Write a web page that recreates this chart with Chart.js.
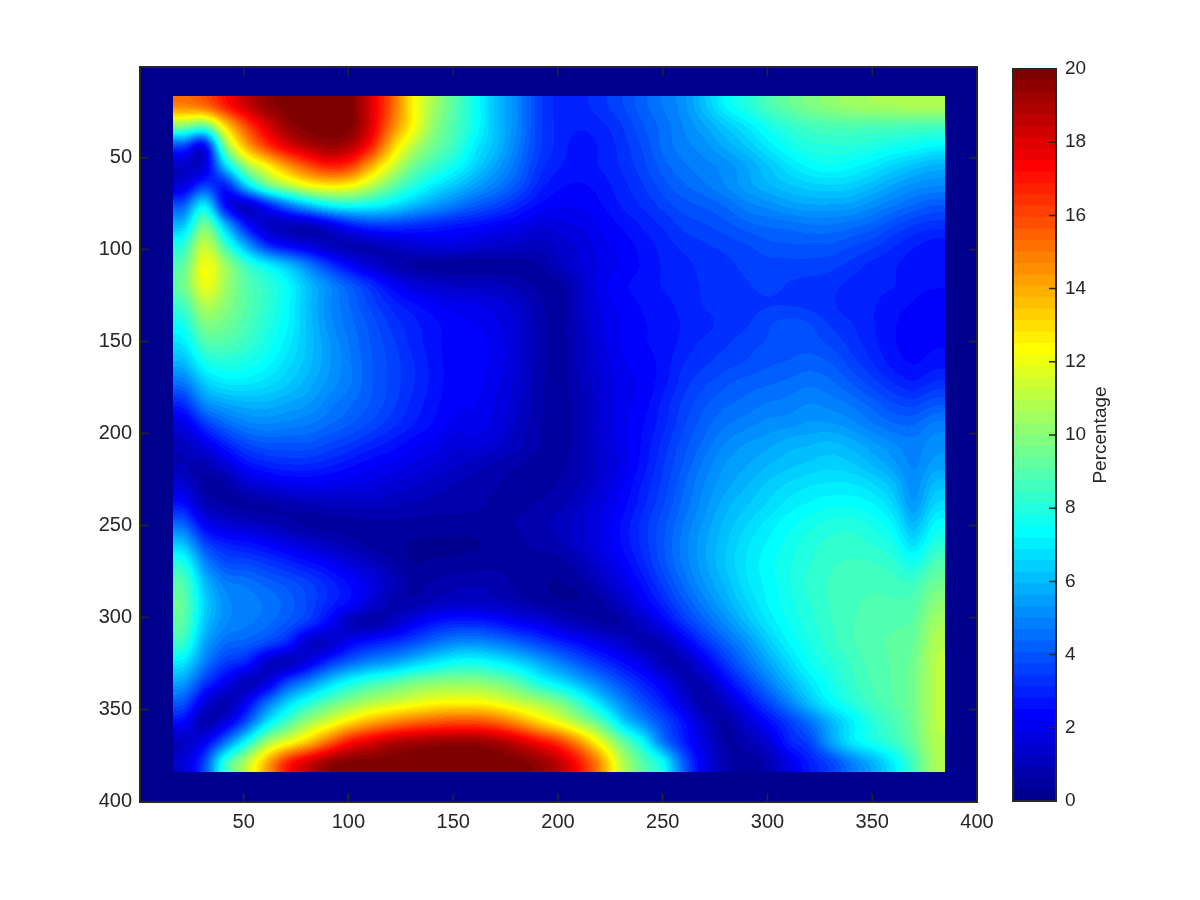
<!DOCTYPE html>
<html lang="en">
<head>
    <meta charset="UTF-8">
    <title>Percentage map</title>
    <script src="https://cdn.jsdelivr.net/npm/chart.js@4"></script>
    <style>
        body { margin: 0; background: #fff; }
        #mapChart { position: absolute; left: 0; top: 0; }
        #barChart { position: absolute; left: 1000px; top: 0; }
    </style>
</head>
<body>
    <canvas id="mapChart" width="1010" height="900"></canvas>
    <canvas id="barChart" width="200" height="900"></canvas>

    <script>
        // tick labels
        const xTicks = [50, 100, 150, 200, 250, 300, 350, 400];
        const yTicks = [50, 100, 150, 200, 250, 300, 350, 400];
        const barTicks = [0, 2, 4, 6, 8, 10, 12, 14, 16, 18, 20];
        const barTitle = 'Percentage';

        // data range covered by the map, everything outside it is 0
        const xExtent = [16.3, 384.8];
        const yExtent = [16.5, 383.8];

        // percentage values, 34 rows of 37 cells, top row first
        const percentRows = [
            [15,15.5,17,18.5,19.5,20,20,20,20,18,15.5,12.5,10.5,9,7.5,6,5,3.5,3,3,3.3,3.7,4.2,4.7,5.2,6.2,7.3,8,8.8,9.3,9.8,10.1,10.4,10.6,10.7,10.8,10.8],
            [10,9,13,16,18,19.5,20,20,20,18,15,12.5,10,8.8,7.5,6,5,3.5,3,2.8,3,3.4,4,4.5,5,5.6,6.3,6.9,7.7,8.2,8.6,8.8,8.9,8.8,8.8,8.7,8.7],
            [3.5,1.5,10,14,16.5,18,19,19.5,19,17,13.5,11,9.5,8.5,7,6,4.8,3.5,3,2.6,2.8,3.2,3.8,4.5,4.9,5.2,5.7,6.3,7,7.6,8,8.1,8.1,7.9,7.7,7.5,7.2],
            [1.2,1.2,6.5,10.5,12.5,14.5,16,17,16.5,14,11.5,9.5,8.5,7.5,6.5,5.5,4.5,3.3,2.8,2.6,2.8,3.1,3.6,4.2,4.6,4.9,5.1,5.6,6.2,6.8,7.3,7.5,7.3,7,6.5,6.1,5.8],
            [1.5,3.5,2.5,6.5,9.5,11,12.3,12.8,12.5,11,9.3,8,7,6.3,5.5,4.8,4,3,2.5,2.4,2.6,3,3.4,3.9,4.3,4.6,5,5.5,5.9,6.2,6.4,6.5,6.4,6,5.6,5.2,5],
            [4,7.5,2,0.8,2.5,4.5,6,7.3,7.6,7.4,6.8,6,5.3,4.7,4.1,3.6,3,2.4,2.2,2.2,2.4,2.8,3.1,3.5,3.9,4.1,4.4,4.9,5.1,5.4,5.6,5.6,5.5,5.1,4.7,4.3,4],
            [6,10,6,2.5,1,0.7,0.6,1.5,2.7,3.3,3.4,3.1,2.9,2.7,2.5,2.2,2,1.6,1.7,1.9,2.2,2.5,2.8,3.1,3.5,3.7,3.9,4.2,4.4,4.5,4.6,4.6,4.5,4.2,3.8,3.4,3.2],
            [8,11.5,8.5,5.5,3,2,1.5,0.9,0.6,0.8,1.1,1.5,1.7,1.7,1.5,1.3,1.2,1,1.3,1.6,2,2.3,2.6,2.9,3.2,3.4,3.5,3.7,3.9,4,4,4,3.8,3.5,3.1,2.8,2.6],
            [9,12.5,10.5,8.5,7.3,6.2,4.8,3.3,2.2,1.3,0.7,0.4,0.3,0.2,0.2,0.3,0.4,0.5,1.1,1.6,1.9,2.2,2.5,2.8,3,3.2,3.3,3.5,3.6,3.6,3.6,3.5,3.3,3,2.8,2.6,2.5],
            [9.5,12.3,10.5,9,8.2,7.4,6,5,4.1,3.2,2.3,1.6,1.3,1.1,1.1,1,0.8,0.5,0.4,1.2,2,2.4,2.6,2.8,3,3.1,3.2,3.4,3.5,3.4,3.3,3.2,3,2.9,2.8,2.6,2.5],
            [8.5,11,10,9,8.2,7.3,6,5,4.3,3.6,3,2.6,2.2,2,1.9,1.7,1.3,0.7,0.4,1.2,1.9,2.3,2.5,2.7,2.9,3.1,3.2,3.3,3.4,3.4,3.3,3.1,2.9,2.8,2.6,2.4,2.3],
            [7.6,9.8,9.5,8.8,8,7.2,6.1,5.1,4.5,3.9,3.3,2.9,2.6,2.3,2.2,1.9,1.5,0.8,0.4,1.1,1.8,2.2,2.4,2.6,2.8,3,3.2,3.4,3.7,3.9,3.8,3.4,3.1,2.8,2.5,2.3,2.3],
            [6.8,8.8,8.9,8.4,7.7,7,6.1,5.3,4.6,4,3.5,3,2.6,2.3,2.3,2,1.5,0.8,0.4,1,1.7,2.2,2.4,2.6,2.9,3.2,3.4,3.6,3.8,3.9,3.9,3.7,3.3,2.9,2.5,2.3,2.4],
            [5.8,7.5,7.9,7.7,7.3,6.7,6,5.3,4.7,4.1,3.6,3.1,2.7,2.3,2.3,2,1.5,0.8,0.4,1,1.6,2.1,2.3,2.6,3.1,3.4,3.6,3.8,4,4.1,4.2,4.1,3.6,3.1,2.7,2.4,2.7],
            [4.5,6.3,6.9,6.9,6.7,6.3,5.7,5.2,4.7,4.1,3.6,3.1,2.7,2.3,2.3,1.9,1.4,0.7,0.4,0.9,1.5,2,2.2,2.7,3.3,3.7,4,4.2,4.3,4.5,4.6,4.5,4.1,3.6,3.1,2.8,3.2],
            [3,5,5.6,5.8,5.8,5.6,5.3,4.8,4.4,4,3.5,3,2.6,2.2,2.2,1.8,1.3,0.7,0.4,0.8,1.5,2,2.3,2.9,3.5,4,4.3,4.5,4.7,4.8,5,4.9,4.6,4.2,3.8,3.6,4],
            [1.7,3.3,4.3,4.9,5,4.9,4.7,4.4,4.1,3.7,3.2,2.8,2.4,2,2,1.7,1.2,0.6,0.4,0.8,1.5,2,2.4,3,3.7,4.2,4.6,4.9,5.1,5.2,5.3,5.3,5.1,4.7,4.4,4.3,4.8],
            [1,1.8,2.9,3.7,4,4,4,3.7,3.4,3,2.7,2.3,2,1.6,1.7,1.4,1,0.6,0.4,0.8,1.4,2,2.5,3.2,3.9,4.5,5,5.3,5.5,5.8,5.9,6,5.8,5.4,5,4.8,5.2],
            [0.9,0.8,1.6,2.6,3,3.1,3.1,2.9,2.6,2.3,2.1,1.8,1.6,1.3,1,0.8,0.6,0.4,0.5,0.8,1.3,1.9,2.6,3.4,4.1,4.8,5.3,5.6,5.9,6.1,6.3,6.4,6.3,5.9,5.4,4.9,5.4],
            [1.4,0.4,0.5,1.3,1.8,2,2.1,2,1.9,1.8,1.5,1.3,1.1,0.9,0.8,0.6,0.4,0.4,0.6,0.9,1.5,2.1,2.8,3.5,4.3,5,5.5,5.9,6.3,6.6,6.8,6.9,6.9,6.6,6,5,6],
            [2.5,0.9,0.5,0.4,0.5,0.7,0.9,1,1,1.1,1,0.9,0.8,0.8,0.7,0.5,0.5,0.6,0.8,1.2,1.7,2.3,3,3.7,4.5,5.2,5.8,6.2,6.6,7,7.2,7.4,7.4,7.2,6.6,5.2,6.6],
            [4.2,2,1.4,1.2,0.9,0.6,0.4,0.4,0.4,0.5,0.5,0.5,0.4,0.4,0.4,0.5,0.6,0.8,1,1.4,1.9,2.5,3.2,3.9,4.7,5.4,6,6.5,7,7.4,7.7,7.9,8,7.7,7.2,5.8,7.3],
            [6.2,3.6,2.8,2.6,2.3,1.8,1.4,1,0.7,0.4,0.3,0.2,0.2,0.2,0.2,0.3,0.5,0.7,0.9,1.3,1.8,2.5,3.2,4,4.9,5.6,6.2,6.8,7.2,7.6,8,8.2,8.3,8.1,7.8,6.6,8],
            [8,5,3.8,3.7,3.4,3,2.6,2.2,1.6,1.1,0.6,0.2,0.3,0.3,0.4,0.5,0.5,0.4,0.4,0.9,1.5,2.2,3,3.9,4.8,5.6,6.3,6.9,7.4,7.8,8.1,8.4,8.5,8.5,8.2,7.6,8.9],
            [9,6,4.8,4.6,4.2,3.9,3.5,3,2.4,1.8,1,0.5,0.6,0.8,0.9,0.8,0.5,0.3,0.2,0.4,1,1.8,2.6,3.5,4.5,5.3,6,6.8,7.3,7.8,8.2,8.5,8.6,8.7,8.6,8.5,9.5],
            [9.3,6.5,5.1,4.9,4.6,4.2,3.7,3,2.4,1.5,0.7,0.6,1,1.2,1.2,1,0.8,0.5,0.3,0.2,0.5,1.2,2.1,3,4,4.9,5.7,6.5,7.2,7.7,8.1,8.5,8.7,8.8,8.8,8.9,10],
            [9.2,6.2,5,4.8,4.5,4,3.4,2.3,0.8,0.5,1.1,2,2.7,3,3,2.7,2.2,1.9,1.2,0.9,0.5,0.5,1.2,2.2,3.3,4.2,5.1,6,6.9,7.5,8,8.4,8.7,8.9,9,9.1,10.5],
            [8.5,5.6,4.4,4.2,3.8,3,1,1,2.2,2.8,3.2,3.8,4.5,5,5.1,4.8,4.2,3.6,3,2.4,1.9,1.3,0.6,0.8,2,3.2,4.2,5.2,6.3,7.2,7.8,8.3,8.7,9,9.1,9.3,10.8],
            [7,4.8,3.4,3,1,0.6,1.8,3.3,4.3,5,5.5,6.3,7,7.5,7.6,7.2,6.6,5.7,4.9,4,3.2,2.5,1.8,0.8,0.7,2,3.4,4.5,5.6,6.6,7.5,8,8.5,8.9,9.1,9.5,11],
            [5.5,3.4,2,0.7,1.5,3.8,5,6.5,7.7,8.5,9,9.7,10,10.1,10.1,9.7,9,7.7,6.8,5.8,4.8,3.8,2.9,2,0.9,0.9,2.3,3.5,4.7,5.9,6.9,7.7,8.3,8.8,9.1,9.6,11],
            [4,1.6,0.5,2,4.5,6.5,8,9.2,10,10.8,11.3,11.8,12.2,12.4,12.4,12,11.2,10.7,9.8,8.3,6.5,5,3.8,2.8,1.6,0.4,1.2,2.4,3.6,4.9,6.2,7.3,8,8.6,9,9.6,11],
            [2.4,0.5,1.6,3.8,6.8,8.8,10.5,11.7,13,14,14.8,15.4,15.8,16,16,15.5,14.5,13.2,12,10.5,9,6.5,5,3.8,2.6,1.2,0.4,1.4,2.4,3.4,4.5,5.8,7,8,8.7,9.5,11],
            [1,2,4.5,7.5,10.5,12,13.5,15.5,17.3,18.2,19,19.3,19.5,19.6,19.6,19.3,18.5,17.5,16.5,14.5,12,9.5,7.5,4.5,2.8,1.6,0.5,0.8,1.4,3,3.5,5.5,7,7.8,8.4,9.3,10.8],
            [1.5,3.5,8.5,11,14,17,18.5,19.6,20,20,20,20,20,20,20,20,20,19.5,18.7,17,14.5,11,9,7.5,4,1.8,0.7,0.3,0.7,1.8,2.8,3.5,4.7,5.7,7,8.7,10.7]
        ];

        const inkColor = '#262626';
        const labelFont = { family: '"Liberation Sans", Arial, sans-serif', size: 20 };

        // matlab jet colormap, 64 levels
        function jetLevel(i) {
            const x = i + 1;
            const part = v => Math.round(255 * Math.max(0, Math.min(1, v / 16)));
            return [part(Math.min(x - 24, 72 - x)), part(Math.min(x - 8, 56 - x)), part(Math.min(x + 8, 40 - x))];
        }
        const jetColors = [];
        for (let i = 0; i < 64; i++) jetColors.push(jetLevel(i));
        const cssColor = c => `rgb(${c[0]},${c[1]},${c[2]})`;

        // Paints percentRows like shading interp: values go in a tiny grey image that the
        // browser scales up to the scale positions, then every pixel is looked up in jet.
        const mapPlugin = {
            id: 'mapPlugin',
            beforeDatasetsDraw(chart) {
                const { ctx, chartArea, scales } = chart;
                ctx.fillStyle = cssColor(jetColors[0]);
                ctx.fillRect(chartArea.left, chartArea.top, chartArea.width, chartArea.height);

                const rows = percentRows.length, cols = percentRows[0].length;
                const small = document.createElement('canvas');
                small.width = cols;
                small.height = rows;
                const smallCtx = small.getContext('2d');
                const grey = smallCtx.createImageData(cols, rows);
                percentRows.forEach((row, r) => row.forEach((v, c) => {
                    const k = (r * cols + c) * 4;
                    grey.data[k] = grey.data[k + 1] = grey.data[k + 2] = Math.round(v / 20 * 255);
                    grey.data[k + 3] = 255;
                }));
                smallCtx.putImageData(grey, 0, 0);

                const x0 = Math.round(scales.x.getPixelForValue(xExtent[0]));
                const x1 = Math.round(scales.x.getPixelForValue(xExtent[1]));
                const y0 = Math.round(scales.y.getPixelForValue(yExtent[0]));
                const y1 = Math.round(scales.y.getPixelForValue(yExtent[1]));
                const big = document.createElement('canvas');
                big.width = x1 - x0;
                big.height = y1 - y0;
                const bigCtx = big.getContext('2d', { willReadFrequently: true });
                bigCtx.imageSmoothingEnabled = true;
                bigCtx.imageSmoothingQuality = 'high';
                bigCtx.drawImage(small, 0, 0, big.width, big.height);

                const img = bigCtx.getImageData(0, 0, big.width, big.height);
                for (let k = 0; k < img.data.length; k += 4) {
                    const c = jetColors[Math.min(63, Math.floor(img.data[k] / 255 * 64))];
                    img.data[k] = c[0];
                    img.data[k + 1] = c[1];
                    img.data[k + 2] = c[2];
                    img.data[k + 3] = 255;
                }
                bigCtx.putImageData(img, 0, 0);
                ctx.drawImage(big, x0, y0);
            },
            afterDraw(chart) {
                const { ctx, chartArea: a, scales } = chart;
                ctx.save();
                ctx.strokeStyle = inkColor;
                ctx.lineWidth = 1.5;
                ctx.beginPath();
                xTicks.forEach(v => {
                    const x = scales.x.getPixelForValue(v);
                    ctx.moveTo(x, a.bottom); ctx.lineTo(x, a.bottom - 8);
                    ctx.moveTo(x, a.top); ctx.lineTo(x, a.top + 8);
                });
                yTicks.forEach(v => {
                    const y = scales.y.getPixelForValue(v);
                    ctx.moveTo(a.left, y); ctx.lineTo(a.left + 8, y);
                    ctx.moveTo(a.right, y); ctx.lineTo(a.right - 8, y);
                });
                ctx.stroke();
                ctx.lineWidth = 2;
                ctx.strokeRect(a.left - 1, a.top - 0.5, a.width + 1, a.height + 1);
                ctx.restore();
            }
        };

        // one hidden point per cell so the chart owns the data and can show it on hover
        const cellPoints = [];
        percentRows.forEach((row, r) => row.forEach((v, c) => {
            cellPoints.push({
                x: xExtent[0] + (c + 0.5) * (xExtent[1] - xExtent[0]) / row.length,
                y: yExtent[0] + (r + 0.5) * (yExtent[1] - yExtent[0]) / percentRows.length,
                v: v
            });
        }));

        function axisOptions(ticks, reverse, fit) {
            return {
                type: 'linear',
                min: 1,
                max: 400,
                reverse: reverse,
                grid: { display: false, drawTicks: false },
                border: { display: false },
                ticks: { color: inkColor, font: labelFont, padding: 9, autoSkip: false, maxRotation: 0, callback: v => String(v) },
                afterBuildTicks: scale => { scale.ticks = ticks.map(v => ({ value: v })); },
                afterFit: fit
            };
        }

        new Chart(document.getElementById('mapChart'), {
            type: 'scatter',
            data: { datasets: [{ data: cellPoints, pointRadius: 0, pointHitRadius: 6 }] },
            options: {
                responsive: false,
                animation: false,
                devicePixelRatio: 1,
                layout: { padding: { left: 0, top: 67.5, right: 33, bottom: 0 } },
                scales: {
                    x: axisOptions(xTicks, false, s => { s.height = 98.5; }),
                    y: axisOptions(yTicks, true, s => { s.width = 141; })
                },
                plugins: {
                    legend: { display: false },
                    tooltip: { callbacks: { label: c => c.raw.v + '%' } }
                }
            },
            plugins: [mapPlugin]
        });

        // colorbar, drawn as 64 stacked bars
        const barFramePlugin = {
            id: 'barFramePlugin',
            afterDraw(chart) {
                const { ctx, chartArea: a, scales } = chart;
                ctx.save();
                ctx.strokeStyle = inkColor;
                ctx.lineWidth = 1.5;
                ctx.beginPath();
                barTicks.forEach(v => {
                    const y = scales.y.getPixelForValue(v);
                    ctx.moveTo(a.right, y); ctx.lineTo(a.right - 7, y);
                });
                ctx.stroke();
                ctx.lineWidth = 2;
                ctx.strokeRect(a.left, a.top, a.width, a.height);
                ctx.fillStyle = inkColor;
                ctx.font = '19px "Liberation Sans", Arial, sans-serif';
                ctx.textAlign = 'center';
                ctx.textBaseline = 'middle';
                ctx.translate(101, (a.top + a.bottom) / 2);
                ctx.rotate(-Math.PI / 2);
                ctx.fillText(barTitle, 0, 0);
                ctx.restore();
            }
        };

        new Chart(document.getElementById('barChart'), {
            type: 'bar',
            data: {
                labels: [barTitle],
                datasets: jetColors.map(c => ({
                    data: [20 / 64],
                    backgroundColor: cssColor(c),
                    borderWidth: 0,
                    inflateAmount: 0.5
                }))
            },
            options: {
                responsive: false,
                animation: false,
                devicePixelRatio: 1,
                datasets: { bar: { barPercentage: 1, categoryPercentage: 1 } },
                layout: { padding: { left: 13, top: 69, right: 0, bottom: 99 } },
                scales: {
                    x: { stacked: true, display: false },
                    y: {
                        stacked: true,
                        position: 'right',
                        min: 0,
                        max: 20,
                        grid: { display: false, drawTicks: false },
                        border: { display: false },
                        ticks: { color: inkColor, font: { family: labelFont.family, size: 19 }, padding: 9, autoSkip: false },
                        afterBuildTicks: scale => { scale.ticks = barTicks.map(v => ({ value: v })); },
                        afterFit: s => { s.width = 144; }
                    }
                },
                plugins: { legend: { display: false }, tooltip: { enabled: false } }
            },
            plugins: [barFramePlugin]
        });
    </script>
</body>
</html>
